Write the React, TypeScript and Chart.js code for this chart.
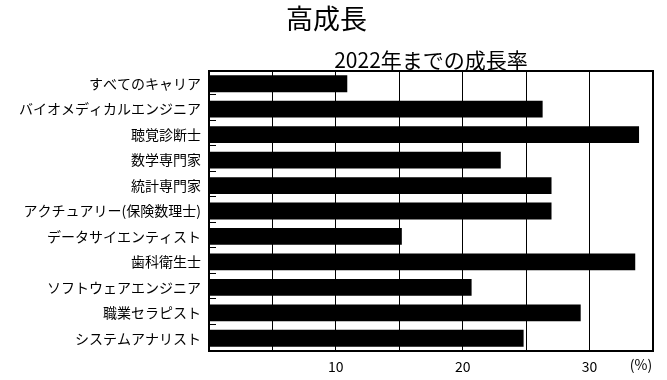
import React, { useEffect, useRef } from "react";
import { Chart, registerables } from "chart.js";

Chart.register(...registerables);

const titleText = "高成長";
const subtitleText = "2022年までの成長率";
const categories = [
  "すべてのキャリア",
  "バイオメディカルエンジニア",
  "聴覚診断士",
  "数学専門家",
  "統計専門家",
  "アクチュアリー(保険数理士)",
  "データサイエンティスト",
  "歯科衛生士",
  "ソフトウェアエンジニア",
  "職業セラピスト",
  "システムアナリスト",
];
const growthValues = [10.9, 26.3, 33.9, 23.0, 27.0, 27.0, 15.2, 33.6, 20.7, 29.3, 24.8];
const xTickLabels = [10, 20, 30];
const unitLabel = "(%)";

const FONT = "'Noto Sans CJK JP', 'Noto Sans', sans-serif";

const framePlugin = {
  id: "frameAndTicks",
  afterDraw(chart: any) {
    const { ctx, chartArea } = chart;
    const y = chart.scales.y;
    const x = chart.scales.x;
    ctx.save();
    ctx.strokeStyle = "#000";
    ctx.lineWidth = 2;
    ctx.strokeRect(chartArea.left, chartArea.top, chartArea.right - chartArea.left, chartArea.bottom - chartArea.top);
    ctx.lineWidth = 1;
    for (let i = 1; i < categories.length; i++) {
      const yy = Math.round((y.getPixelForValue(i - 1) + y.getPixelForValue(i)) / 2) - 2 + 0.5;
      ctx.beginPath();
      ctx.moveTo(chartArea.left, yy);
      ctx.lineTo(chartArea.left + 7, yy);
      ctx.stroke();
    }
    ctx.fillStyle = "#000";
    ctx.font = `14px ${FONT}`;
    ctx.textAlign = "center";
    ctx.textBaseline = "top";
    ctx.fillText(unitLabel, x.getPixelForValue(35) - 12, x.top + 7);
    ctx.restore();
  },
};

export default function App() {
  const canvasRef = useRef<HTMLCanvasElement | null>(null);

  useEffect(() => {
    if (!canvasRef.current) return;
    const chart = new Chart(canvasRef.current, {
      type: "bar",
      data: {
        labels: categories,
        datasets: [
          {
            data: growthValues,
            backgroundColor: "#000",
            borderWidth: 0,
            barPercentage: 0.66,
            categoryPercentage: 1,
          },
        ],
      },
      options: {
        indexAxis: "y",
        animation: false,
        responsive: true,
        maintainAspectRatio: false,
        layout: { padding: { left: 0, right: 14, top: 0, bottom: 0 } },
        plugins: {
          legend: { display: false },
          tooltip: { enabled: false },
          title: {
            display: true,
            text: titleText,
            color: "#000",
            font: { family: FONT, size: 27, weight: "normal", lineHeight: 1.2 },
            padding: { top: 3, bottom: 14.6 },
          },
          subtitle: {
            display: true,
            text: subtitleText,
            color: "#000",
            fullSize: false,
            font: { family: FONT, size: 21, weight: "normal", lineHeight: 1 },
            padding: { top: 0, bottom: 0 },
          },
        },
        scales: {
          x: {
            type: "linear",
            min: 0,
            max: 35,
            afterFit: (scale: any) => {
              scale.height = 29;
            },
            border: { display: false },
            grid: { color: "#000", lineWidth: 1, drawTicks: false },
            ticks: {
              stepSize: 5,
              autoSkip: false,
              maxRotation: 0,
              padding: 7,
              color: "#000",
              font: { family: FONT, size: 14 },
              callback: (v: any) => (xTickLabels.includes(Number(v)) ? String(v) : ""),
            },
          },
          y: {
            type: "category",
            afterFit: (scale: any) => {
              scale.width = 209;
            },
            border: { display: false },
            grid: { display: false, drawTicks: false },
            ticks: {
              autoSkip: false,
              padding: 8,
              color: "#000",
              font: { family: FONT, size: 14 },
            },
          },
        },
      },
      plugins: [framePlugin],
    });
    return () => chart.destroy();
  }, []);

  return (
    <div style={{ position: "fixed", left: 0, top: 0, width: 667, height: 380, background: "#fff" }}>
      <canvas ref={canvasRef} />
    </div>
  );
}
